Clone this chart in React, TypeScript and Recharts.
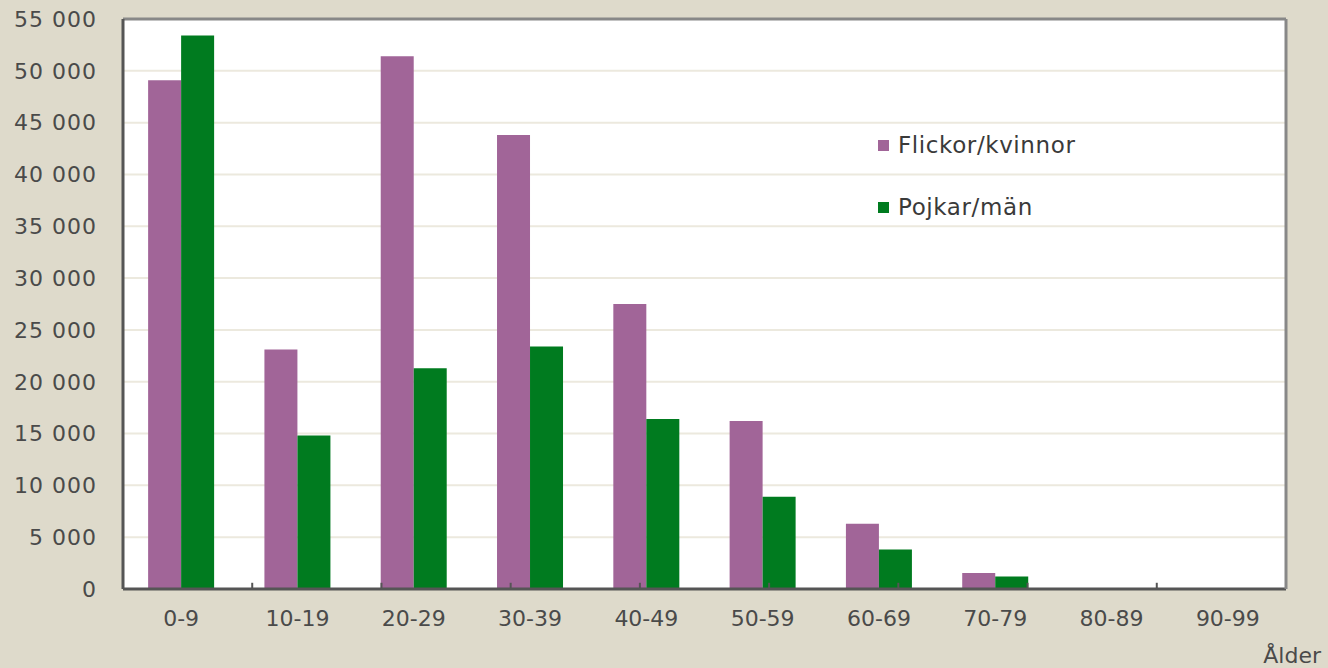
import React from "react";
import {
  BarChart,
  Bar,
  XAxis,
  YAxis,
  CartesianGrid,
  ReferenceLine,
} from "recharts";

const ageGroups = ["0-9", "10-19", "20-29", "30-39", "40-49", "50-59", "60-69", "70-79", "80-89", "90-99"];
const flickorKvinnor = [49100, 23100, 51400, 43800, 27500, 16200, 6300, 1550, 80, 5];
const pojkarMan = [53400, 14800, 21300, 23400, 16400, 8900, 3800, 1200, 60, 5];
const yTicks = [0, 5000, 10000, 15000, 20000, 25000, 30000, 35000, 40000, 45000, 50000, 55000];
const dividerTicks = [1, 2, 3, 4, 5, 6, 7, 8, 9];

const data = ageGroups.map((age, i) => ({
  age,
  kvinnor: flickorKvinnor[i],
  man: pojkarMan[i],
}));

const PURPLE = "#a16598";
const GREEN = "#007b1f";
const FONT = "'DejaVu Sans', sans-serif";

// thousands separated by a space, like "55 000"
const fmt = (v: number) => v.toLocaleString("en-US").replace(/,/g, " ");

function LegendBox() {
  const items = [
    { label: "Flickor/kvinnor", color: PURPLE },
    { label: "Pojkar/män", color: GREEN },
  ];
  return (
    <div
      style={{
        position: "absolute",
        left: 878,
        top: 114,
        fontFamily: FONT,
        fontSize: 23,
        letterSpacing: 0.6,
        color: "#3a3a3a",
      }}
    >
      {items.map((it) => (
        <div key={it.label} style={{ display: "flex", alignItems: "center", height: 62 }}>
          <span style={{ width: 11, height: 11, background: it.color, marginRight: 9 }} />
          {it.label}
        </div>
      ))}
    </div>
  );
}

export default function App() {
  return (
    <div style={{ width: 1328, height: 668, background: "#dedacb", position: "absolute", left: 0, top: 0 }}>
      <style>{`body{margin:0}`}</style>
      <BarChart
        width={1328}
        height={668}
        data={data}
        margin={{ top: 19, right: 41, left: 0, bottom: 0 }}
        barGap={0}
        barCategoryGap="21.6%"
      >
        <CartesianGrid vertical={false} stroke="#ece9de" strokeWidth={2} fill="#ffffff" fillOpacity={1} />
        <XAxis
          dataKey="age"
          height={79}
          tickLine={false}
          tickSize={0}
          tickMargin={21}
          axisLine={{ stroke: "#555555", strokeWidth: 3 }}
          tick={{ fill: "#4a4a4a", fontSize: 22, fontFamily: FONT }}
          label={{
            content: (props: any) => {
              const vb = props.viewBox;
              return (
                <text
                  x={vb.x + vb.width + 35}
                  y={663}
                  textAnchor="end"
                  fill="#4a4a4a"
                  fontSize={22}
                  fontFamily={FONT}
                >
                  Ålder
                </text>
              );
            },
          }}
        />
        <XAxis xAxisId="div" type="number" domain={[0, 10]} hide />
        <YAxis
          domain={[0, 55000]}
          ticks={yTicks}
          width={123}
          tickLine={false}
          tickSize={0}
          tickMargin={26}
          interval={0}
          tickFormatter={fmt}
          axisLine={{ stroke: "#555555", strokeWidth: 3 }}
          tick={{ fill: "#4a4a4a", fontSize: 22, fontFamily: FONT, letterSpacing: 1 }}
        />
        <YAxis
          yAxisId="right"
          orientation="right"
          domain={[0, 55000]}
          width={1}
          tick={false}
          tickLine={false}
          axisLine={{ stroke: "#888888", strokeWidth: 3 }}
        />
        <ReferenceLine y={55000} stroke="#888888" strokeWidth={3} />
        <Bar dataKey="kvinnor" name="Flickor/kvinnor" fill={PURPLE} isAnimationActive={false} />
        <Bar dataKey="man" name="Pojkar/män" fill={GREEN} isAnimationActive={false} />
        {dividerTicks.map((d) => (
          <ReferenceLine
            key={d}
            xAxisId="div"
            segment={[
              { x: d, y: 0 },
              { x: d, y: 600 },
            ]}
            stroke="#555555"
            strokeWidth={2}
          />
        ))}
      </BarChart>
      <LegendBox />
    </div>
  );
}
